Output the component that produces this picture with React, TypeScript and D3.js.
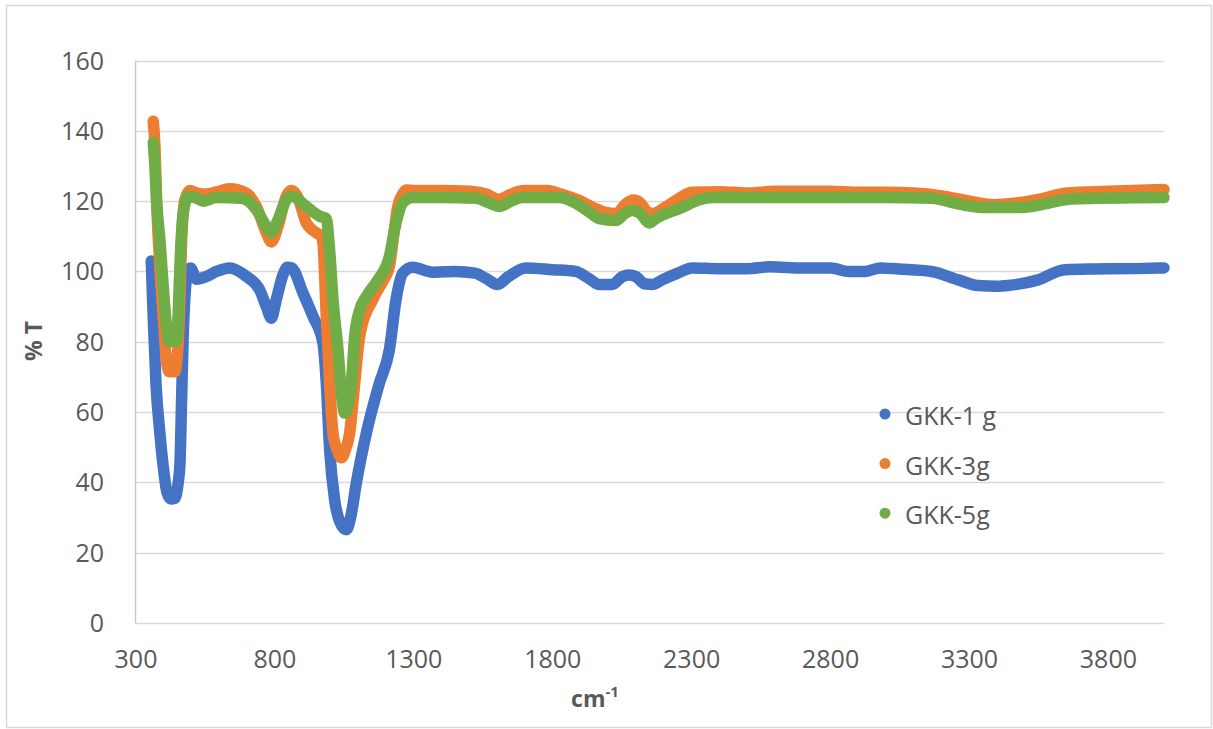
import React from "react";
import * as d3 from "d3";

const xTicks = [300, 800, 1300, 1800, 2300, 2800, 3300, 3800];
const yTicks = [0, 20, 40, 60, 80, 100, 120, 140, 160];
const seriesNames = ["GKK-1 g", "GKK-3g", "GKK-5g"];
const seriesColors = ["#4472c4", "#ed7d31", "#70ad47"];

const gkk1: [number, number][] = [
  [355, 103], [358, 96], [362, 87], [372, 68], [386, 54], [398, 44.5], [412, 37], [425, 35.3],
  [440, 35.5], [452, 40], [458, 45], [464, 63], [470, 82], [478, 95], [486, 100], [496, 101],
  [518, 97.8], [554, 98.6], [590, 100], [637, 101], [697, 98.6], [745, 94.8], [769, 90], [787, 86.7],
  [805, 92], [829, 99], [845, 101.2], [860, 101], [901, 93.9], [937, 87.2], [973, 79.6], [985, 68.2],
  [997, 49.3], [1015, 35], [1035, 28.5], [1057, 26.5], [1075, 31], [1093, 39.8], [1129, 54],
  [1176, 68.2], [1212, 77.7], [1236, 92], [1260, 99.5], [1295, 101.2], [1367, 99.8], [1450, 100],
  [1520, 99.5], [1560, 98], [1601, 96.3], [1640, 98.5], [1703, 101], [1800, 100.5], [1882, 100],
  [1930, 98], [1967, 96.3], [2014, 96.3], [2050, 98.5], [2074, 99], [2100, 98.5], [2130, 96.5],
  [2160, 96.3], [2194, 97.6], [2250, 99.5], [2301, 101], [2400, 100.8], [2500, 100.8], [2580, 101.3],
  [2700, 101], [2800, 101], [2865, 100], [2925, 100], [2980, 101], [3044, 100.7], [3163, 100],
  [3260, 97.6], [3330, 96], [3400, 95.8], [3439, 96], [3547, 97.6], [3643, 100.5], [3750, 100.7],
  [3900, 100.8], [4000, 101],
];

const gkk3: [number, number][] = [
  [362, 142.7], [368, 136], [374, 120.4], [386, 101.4], [398, 87.2], [410, 74.2], [420, 71.5],
  [440, 71.5], [452, 80], [458, 92], [464, 108.4], [476, 120.4], [494, 123], [520, 122.3],
  [554, 122], [590, 122.6], [637, 123.5], [697, 122.3], [733, 118.5], [769, 111], [787, 108.4],
  [811, 112.8], [841, 121.4], [859, 123], [880, 121.5], [913, 113.8], [949, 111], [967, 110],
  [973, 108], [985, 87], [997, 68], [1009, 54], [1025, 49], [1039, 47], [1055, 49.5], [1069, 54],
  [1087, 68], [1105, 81.5], [1152, 92], [1190, 97.5], [1212, 101.4], [1230, 112], [1242, 118.5],
  [1260, 122], [1272, 123.2], [1300, 123], [1400, 123], [1500, 122.8], [1560, 122], [1607, 120.5],
  [1650, 122], [1700, 123], [1780, 123], [1830, 122], [1900, 120], [1950, 118], [1990, 116.8],
  [2030, 116.5], [2060, 119], [2090, 120.3], [2115, 119.5], [2140, 117], [2160, 116.5], [2200, 118],
  [2250, 120.5], [2300, 122.5], [2400, 122.7], [2500, 122.3], [2600, 122.8], [2800, 122.8],
  [2900, 122.5], [3000, 122.5], [3100, 122.3], [3200, 121.5], [3300, 120], [3390, 119],
  [3450, 119.3], [3550, 120.5], [3650, 122.3], [3800, 122.8], [4000, 123.3],
];

const gkk5: [number, number][] = [
  [362, 136.6], [368, 130], [374, 120], [386, 109], [398, 95.7], [410, 84.4], [420, 80.1],
  [444, 80.1], [452, 88], [458, 101.4], [470, 116.5], [488, 121.4], [520, 120.8], [542, 120],
  [590, 121], [680, 120.8], [733, 117.6], [769, 112.8], [787, 111], [811, 114.7], [841, 120.4],
  [860, 121.4], [913, 118.5], [961, 115.7], [985, 115], [997, 106], [1009, 92], [1027, 77.7],
  [1041, 64], [1051, 59.7], [1063, 62], [1075, 68.2], [1087, 81.5], [1105, 89], [1129, 92.9],
  [1170, 97.5], [1212, 104.3], [1236, 113.8], [1260, 119.5], [1295, 121], [1400, 121],
  [1524, 120.8], [1570, 119.5], [1607, 118.5], [1650, 120], [1690, 121], [1823, 121], [1880, 119.5],
  [1930, 117], [1967, 115], [2027, 114.5], [2060, 116.5], [2086, 117.3], [2115, 116.5],
  [2146, 113.8], [2170, 115], [2194, 116], [2260, 118], [2326, 120.3], [2374, 121], [2600, 121],
  [3000, 121], [3163, 120.8], [3260, 119.2], [3343, 118.2], [3486, 118.2], [3583, 119.4],
  [3666, 120.6], [4000, 121],
];

const allSeries = [gkk1, gkk3, gkk5];

export default function App() {
  const W = 1213;
  const H = 729;
  const x = d3.scaleLinear().domain([300, 4000]).range([136, 1164]);
  const y = d3.scaleLinear().domain([0, 160]).range([623, 60.5]);
  const line = d3
    .line<[number, number]>()
    .x((d) => x(d[0]))
    .y((d) => y(d[1]))
    .curve(d3.curveMonotoneX);
  const font = "'Open Sans', sans-serif";
  const textColor = "#595959";

  return (
    <div style={{ position: "absolute", left: 0, top: 0 }}>
      <svg width={W} height={H} style={{ display: "block" }}>
        <rect x={0} y={0} width={W} height={H} fill="#fff" />
        <rect x={6.5} y={5.5} width={1205} height={722} fill="none" stroke="#d9d9d9" strokeWidth={1.5} />
        {yTicks.map((t) => (
          <line key={"g" + t} x1={136} x2={1164} y1={Math.round(y(t)) + 0.5} y2={Math.round(y(t)) + 0.5} stroke="#d9d9d9" strokeWidth={1.5} />
        ))}
        <line x1={135.5} x2={135.5} y1={60.5} y2={623.5} stroke="#c8c8c8" strokeWidth={1.5} />
        {yTicks.map((t) => (
          <text key={"yl" + t} x={104} y={y(t) + 9} textAnchor="end" fontFamily={font} fontSize={25} fill={textColor}>
            {t}
          </text>
        ))}
        {xTicks.map((t) => (
          <text key={"xl" + t} x={x(t)} y={668} textAnchor="middle" fontFamily={font} fontSize={25} fill={textColor}>
            {t}
          </text>
        ))}
        <text x={595} y={707} textAnchor="middle" fontFamily={font} fontSize={23} fontWeight="bold" fill={textColor}>
          cm<tspan fontSize={15} dy={-10}>-1</tspan>
        </text>
        <text transform="translate(42,341) rotate(-90)" textAnchor="middle" fontFamily={font} fontSize={23} fontWeight="bold" fill={textColor}>
          % T
        </text>
        {allSeries.map((s, i) => (
          <path key={"s" + i} d={line(s) || ""} fill="none" stroke={seriesColors[i]} strokeWidth={11.5} strokeLinecap="round" strokeLinejoin="round" />
        ))}
        {seriesNames.map((n, i) => (
          <g key={"lg" + i} transform={`translate(885,${414 + i * 49.6})`}>
            <circle cx={0} cy={0} r={5.5} fill={seriesColors[i]} />
            <text x={20} y={11} fontFamily={font} fontSize={25} fill={textColor}>
              {n}
            </text>
          </g>
        ))}
      </svg>
    </div>
  );
}
